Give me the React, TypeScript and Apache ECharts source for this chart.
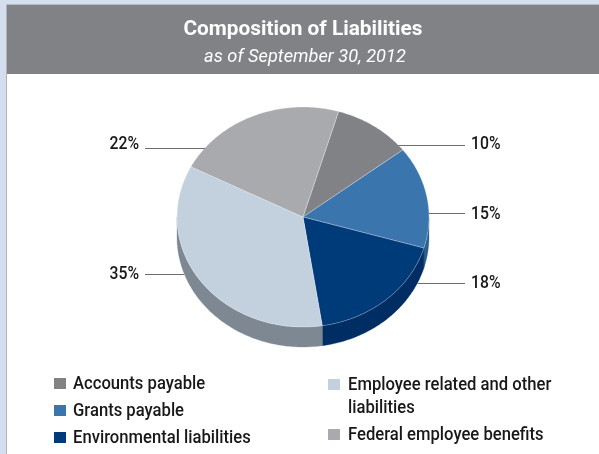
import React, { useEffect, useRef } from "react";
import * as echarts from "echarts";

// ---------- data ----------
const categories = [
  "Accounts payable",
  "Grants payable",
  "Environmental liabilities",
  "Employee related and other liabilities",
  "Federal employee benefits",
];
const values = [10, 15, 18, 35, 22];
const legendLabels = [
  "Accounts payable",
  "Grants payable",
  "Environmental liabilities",
  "Employee related and other\nliabilities",
  "Federal employee benefits",
];
const titleText = "Composition of Liabilities";
const subtitleText = "as of September 30, 2012";

// ---------- styles / layout ----------
const topColors = ["#808285", "#3a75ad", "#003b79", "#c3d1de", "#a8aaad"];
const sideColors = ["#5f6063", "#2c5e8e", "#002d63", "#7d8893", "#85878a"];
const labelSide = [1, 1, 1, -1, -1];
const labelLineY = [145, 213, 283, 274, 148];
const labelDy = [-1.5, 0, -1, -1, -5];
const legendCol = [0, 0, 0, 1, 1];
const legendRowY = [383, 410, 437, 384, 434];

const FONT = "Roboto, 'Noto Sans', sans-serif";
const CX = 303;
const CY = 217;
const RX = 126;
const RY = 110;
const DEPTH = 20;
const START = 73.6;

const total = values.reduce((a, b) => a + b, 0);
const rad = (d: number) => (d * Math.PI) / 180;
const pt = (deg: number, dz = 0): number[] => [
  CX + RX * Math.cos(rad(deg)),
  CY - RY * Math.sin(rad(deg)) + dz,
];

function silhouetteX(y: number, side: number) {
  let dy: number;
  if (y <= CY) dy = y - CY;
  else if (y >= CY + DEPTH) dy = y - CY - DEPTH;
  else dy = 0;
  const f = Math.sqrt(Math.max(0, 1 - (dy / RY) * (dy / RY)));
  return CX + side * RX * f;
}

function renderItem(params: any, api: any) {
  const i = params.dataIndex;
  const v = api.value(0) as number;
  let before = 0;
  for (let k = 0; k < i; k++) before += values[k];
  const a1 = START - (before / total) * 360;
  const a2 = a1 - (v / total) * 360;

  const children: any[] = [];

  // side wall (visible on lower half: angles between -180 and 0)
  const lo = Math.max(a2, -180);
  const hi = Math.min(a1, 0);
  if (hi > lo) {
    const pts: number[][] = [];
    const n = Math.max(2, Math.ceil(hi - lo));
    for (let s = 0; s <= n; s++) pts.push(pt(hi - ((hi - lo) * s) / n));
    for (let s = n; s >= 0; s--) pts.push(pt(hi - ((hi - lo) * s) / n, DEPTH));
    children.push({
      type: "polygon",
      shape: { points: pts },
      style: { fill: sideColors[i], stroke: sideColors[i], lineWidth: 0.3 },
    });
  }

  // top face
  const top: number[][] = [[CX, CY]];
  const n = Math.max(2, Math.ceil(a1 - a2));
  for (let s = 0; s <= n; s++) top.push(pt(a1 - ((a1 - a2) * s) / n));
  children.push({
    type: "polygon",
    shape: { points: top },
    style: { fill: topColors[i], stroke: "rgba(255,255,255,0.45)", lineWidth: 0.6 },
  });

  // leader line + label
  const side = labelSide[i];
  const ly = labelLineY[i];
  const x0 = silhouetteX(ly, side);
  const x1 = side > 0 ? 465 : 145;
  children.push({
    type: "line",
    shape: { x1: x0, y1: ly + 0.5, x2: x1, y2: ly + 0.5 },
    style: { stroke: "#6d6e71", lineWidth: 1 },
  });
  children.push({
    type: "text",
    x: side > 0 ? x1 + 6 : x1 - 6,
    y: ly + labelDy[i],
    scaleX: 0.9,
    style: {
      text: Math.round((v / total) * 100) + "%",
      fill: "#1a1718",
      fontSize: 17.5,
      fontWeight: 500,
      fontFamily: FONT,
      align: side > 0 ? "left" : "right",
      verticalAlign: "middle",
    },
  });

  return { type: "group", children };
}

function buildGraphic() {
  const g: any[] = [
    { type: "rect", shape: { x: 0, y: 0, width: 599, height: 454 }, style: { fill: "#d5deee" }, z: -10 },
    { type: "rect", shape: { x: 7, y: 74, width: 592, height: 380 }, style: { fill: "#ffffff" }, z: -10 },
    { type: "rect", shape: { x: 6, y: 4, width: 593, height: 1 }, style: { fill: "#b9bcc1" }, z: -10 },
    { type: "rect", shape: { x: 6, y: 5, width: 1, height: 449 }, style: { fill: "#aeb3bb" }, z: -10 },
    { type: "rect", shape: { x: 7, y: 5, width: 592, height: 69 }, style: { fill: "#818286" }, z: -10 },
    {
      type: "text",
      x: 303,
      y: 28,
      style: {
        text: titleText,
        fill: "#ffffff",
        fontSize: 20.8,
        fontWeight: "bold",
        fontFamily: FONT,
        align: "center",
        verticalAlign: "middle",
      },
    },
    {
      type: "text",
      x: 305,
      y: 56,
      scaleX: 0.95,
      style: {
        text: subtitleText,
        fill: "#ffffff",
        fontSize: 19.2,
        fontStyle: "italic",
        fontFamily: FONT,
        align: "center",
        verticalAlign: "middle",
      },
    },
  ];
  categories.forEach((c, i) => {
    const col = legendCol[i];
    const sx = col === 0 ? 54 : 328;
    const y = legendRowY[i];
    g.push({
      type: "rect",
      shape: { x: sx, y: y - 5, width: 12, height: 11 },
      style: { fill: topColors[i] },
    });
    g.push({
      type: "text",
      x: col === 0 ? 73 : 348,
      y: y - 11.5,
      scaleX: 0.9,
      style: {
        text: legendLabels[i],
        fill: "#1a1718",
        fontSize: 18.5,
        fontWeight: 500,
        lineHeight: 23,
        fontFamily: FONT,
        align: "left",
        verticalAlign: "top",
      },
    });
  });
  return g;
}

export default function App() {
  const ref = useRef<HTMLDivElement>(null);
  useEffect(() => {
    if (!ref.current) return;
    const chart = echarts.init(ref.current, undefined, { renderer: "svg" });
    chart.setOption({
      animation: false,
      graphic: buildGraphic(),
      series: [
        {
          type: "custom",
          coordinateSystem: "none",
          silent: true,
          renderItem,
          data: values.map((v, i) => ({ name: categories[i], value: [v] })),
          z: 5,
        },
      ],
    });
    return () => chart.dispose();
  }, []);
  return (
    <div
      ref={ref}
      style={{ position: "fixed", left: 0, top: 0, width: 599, height: 454 }}
    />
  );
}
